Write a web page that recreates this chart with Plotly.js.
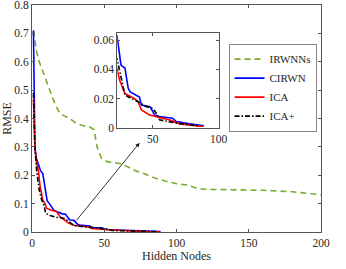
<!DOCTYPE html>
<html>
<head>
<meta charset="utf-8">
<script src="https://cdn.plot.ly/plotly-3.0.1.min.js"></script>
<style>html,body{margin:0;padding:0;background:#fff;}#chart{width:346px;height:269px;}</style>
</head>
<body>
<div id="chart"></div>
<script>
// ---- data ----
const seriesNames = ["IRWNNs", "CIRWN", "ICA", "ICA+"];

const irwnnsX = [1, 2, 3, 5, 8, 10, 13, 16, 19, 22, 26, 30, 35, 40, 43, 45, 48, 52, 56, 62, 68, 72, 78, 85, 92, 100, 108, 112, 115, 125, 140, 160, 180, 190, 200];
const irwnnsY = [0.71, 0.68, 0.64, 0.60, 0.56, 0.53, 0.49, 0.45, 0.42, 0.41, 0.40, 0.385, 0.375, 0.37, 0.36, 0.30, 0.26, 0.248, 0.245, 0.24, 0.225, 0.215, 0.205, 0.19, 0.18, 0.17, 0.165, 0.158, 0.152, 0.15, 0.149, 0.147, 0.142, 0.137, 0.131];

const cirwnX = [1, 1.5, 2, 3, 4, 5, 6, 7.5, 8.5, 9.5, 10.5, 12, 13.5, 15, 17, 19, 21, 23, 26, 27, 29, 31.5, 33, 40, 41.5, 48, 51.5, 55, 65, 68, 78, 89];
const cirwnY = [0.71, 0.40, 0.30, 0.26, 0.245, 0.23, 0.215, 0.205, 0.17, 0.13, 0.11, 0.10, 0.09, 0.078, 0.072, 0.068, 0.064, 0.063, 0.043, 0.042, 0.041, 0.027, 0.0245, 0.021, 0.0156, 0.0145, 0.0088, 0.0077, 0.0066, 0.0043, 0.0027, 0.0014];

const icaX = [1, 2, 3, 4.4, 5.5, 7.4, 9, 10.2, 13.6, 17, 19.4, 23, 25, 29, 36.4, 39, 41.5, 47.7, 52.8, 63, 70.5, 80.5, 88];
const icaY = [0.47, 0.30, 0.25, 0.218, 0.165, 0.113, 0.10, 0.083, 0.077, 0.072, 0.054, 0.040, 0.0325, 0.0235, 0.020, 0.0178, 0.0122, 0.0088, 0.0077, 0.0054, 0.0027, 0.0014, 0.0009];

const icaPlusX = [1, 2, 3.2, 5, 6.7, 8, 9.5, 12.5, 17, 20.6, 23, 25, 26.3, 29, 34, 39, 45, 50.2, 52.8, 55.3, 68, 83, 86];
const icaPlusY = [0.49, 0.30, 0.218, 0.148, 0.113, 0.10, 0.066, 0.058, 0.052, 0.048, 0.0473, 0.039, 0.0325, 0.0224, 0.020, 0.0178, 0.0145, 0.0133, 0.0099, 0.0054, 0.0032, 0.0014, 0.0012];

const mainXTicks = [0, 50, 100, 150, 200];
const mainYTicks = [0, 0.1, 0.2, 0.3, 0.4, 0.5, 0.6, 0.7, 0.8];
const insetXTicks = [50, 100];
const insetYTicks = [0, 0.02, 0.04, 0.06];

// ---- styles ----
const FONT = "Liberation Serif, Times New Roman, serif";
const styles = [
  {color: "#77AC30", dash: "6px,4px", width: 1.6},
  {color: "#0000FF", dash: "solid", width: 1.6},
  {color: "#FF0000", dash: "solid", width: 1.6},
  {color: "#000000", dash: "5px,2px,1.5px,2px", width: 1.6}
];
const xs = [irwnnsX, cirwnX, icaX, icaPlusX];
const ys = [irwnnsY, cirwnY, icaY, icaPlusY];

const traces = [];
for (let i = 0; i < 4; i++) {
  traces.push({x: xs[i], y: ys[i], name: seriesNames[i], type: "scatter", mode: "lines",
    line: {color: styles[i].color, dash: styles[i].dash, width: styles[i].width},
    xaxis: "x", yaxis: "y", showlegend: true});
}
for (let i = 1; i < 4; i++) {
  traces.push({x: xs[i], y: ys[i], name: seriesNames[i], type: "scatter", mode: "lines",
    line: {color: styles[i].color, dash: styles[i].dash, width: styles[i].width},
    xaxis: "x2", yaxis: "y2", showlegend: false});
}

const axisCommon = {
  showgrid: false, zeroline: false, showline: true, linecolor: "#555", linewidth: 1,
  mirror: "ticks", ticks: "inside", ticklen: 3, tickcolor: "#555",
  ticklabeloverflow: "allow",
  tickfont: {family: FONT, size: 11.5, color: "#262626"}
};

const layout = {
  width: 346, height: 269,
  margin: {l: 32, r: 25, t: 5, b: 37},
  paper_bgcolor: "#fff", plot_bgcolor: "rgba(0,0,0,0)",
  font: {family: FONT, size: 11, color: "#262626"},
  xaxis: Object.assign({}, axisCommon, {range: [0, 200], tickvals: mainXTicks, ticktext: mainXTicks.map(String),
    title: {text: "Hidden Nodes", font: {family: FONT, size: 12, color: "#262626"}, standoff: 1}, domain: [0, 1]}),
  yaxis: Object.assign({}, axisCommon, {range: [0, 0.8], tickvals: mainYTicks, ticktext: mainYTicks.map(String),
    title: {text: "RMSE", font: {family: FONT, size: 12, color: "#262626"}, standoff: 6}, domain: [0, 1]}),
  xaxis2: Object.assign({}, axisCommon, {range: [23.2, 100.5], tickvals: insetXTicks, ticktext: insetXTicks.map(String),
    anchor: "y2", domain: [0.295, 0.648]}),
  yaxis2: Object.assign({}, axisCommon, {range: [0, 0.065], tickvals: insetYTicks, ticktext: insetYTicks.map(String),
    anchor: "x2", domain: [0.459, 0.878]}),
  showlegend: true,
  legend: {x: 0.68, y: 0.83, xanchor: "left", yanchor: "top", bgcolor: "#fff",
    bordercolor: "#888", borderwidth: 1, font: {family: FONT, size: 11, color: "#262626"},
    tracegroupgap: 0, itemwidth: 30},
  annotations: [{x: 74.4, y: 0.314, ax: 30, ay: 0.036, xref: "x", yref: "y", axref: "x", ayref: "y",
    showarrow: true, arrowhead: 2, arrowsize: 1, arrowwidth: 0.8, arrowcolor: "#000", text: ""}]
};

Plotly.newPlot("chart", traces, layout, {staticPlot: true, displayModeBar: false});
</script>
</body>
</html>
